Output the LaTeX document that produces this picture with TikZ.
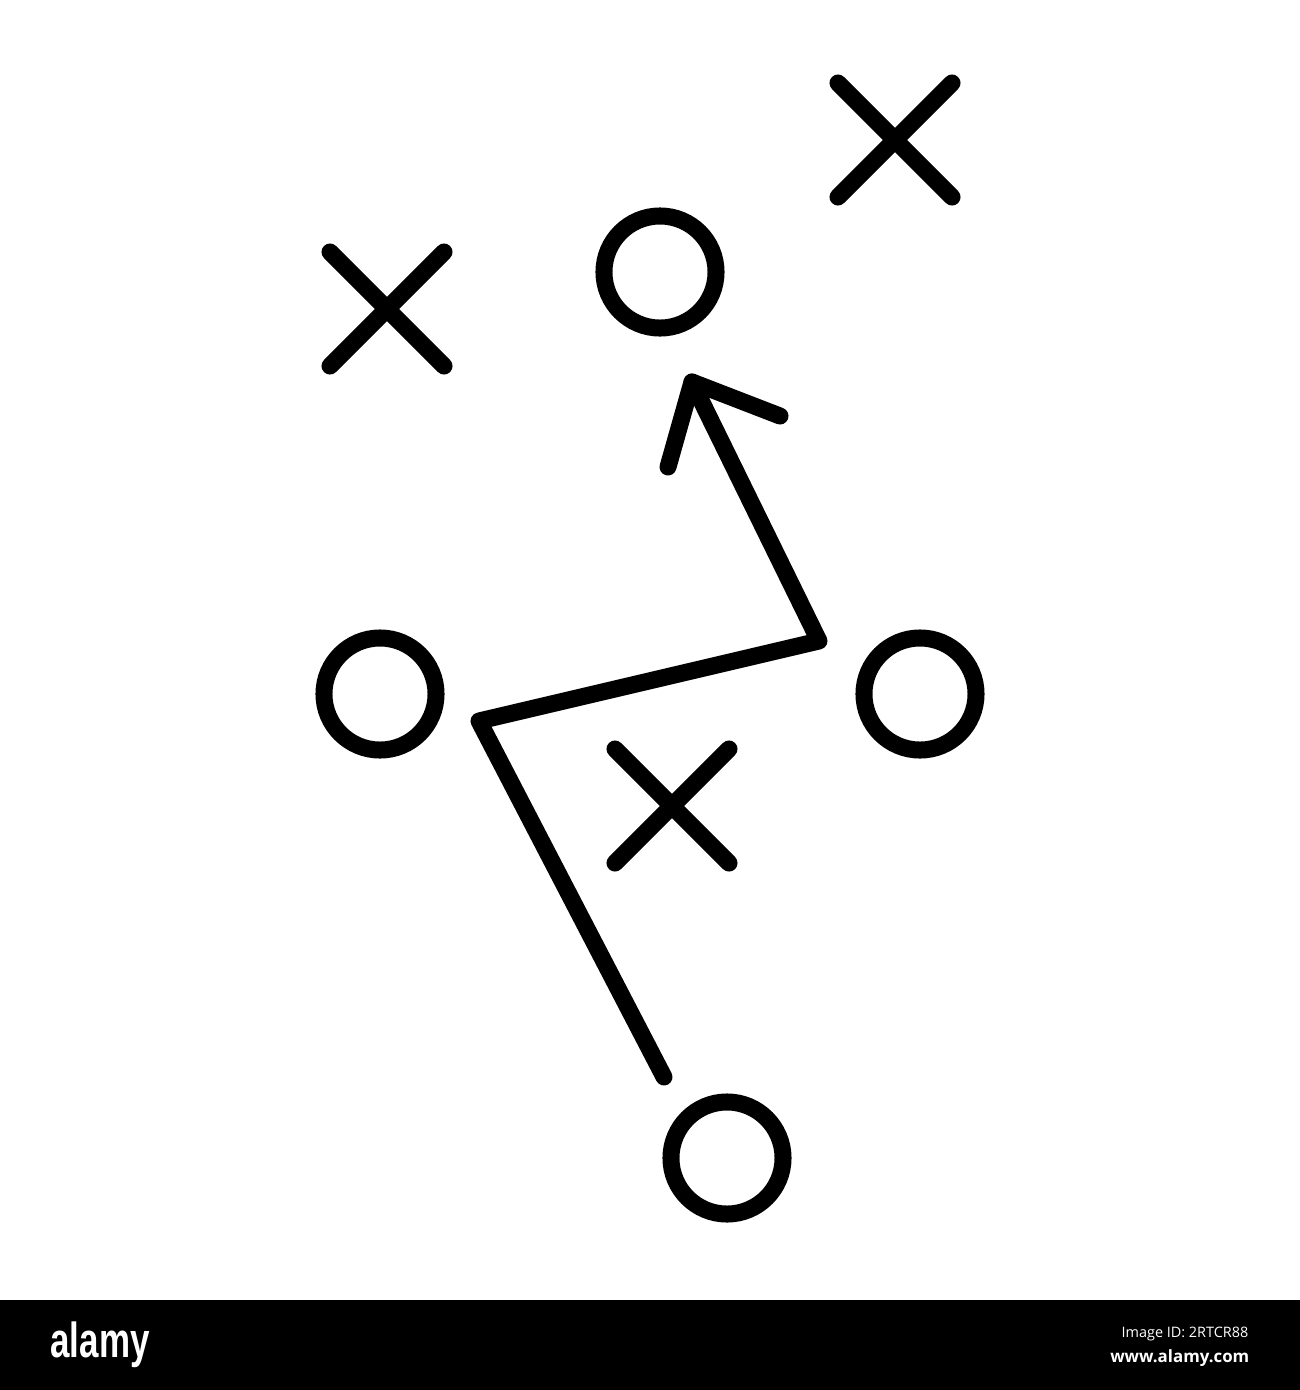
\documentclass[tikz,border=0pt]{standalone}
\usepackage{fontspec}
\setmainfont{Liberation Sans}
\newfontfamily\bannerfont{Open Sans}
\usetikzlibrary{shapes.misc}
\begin{document}
\begin{tikzpicture}[x=0.01cm,y=-0.01cm,
  ring/.style={draw,circle,minimum size=1.12cm,inner sep=0pt,line width=0.17cm},
  xmark/.style={draw,cross out,minimum size=1.14cm,inner sep=0pt,outer sep=0pt,line width=0.17cm,line cap=round},
  route/.style={draw,line width=0.17cm,line cap=round,line join=round}]
\useasboundingbox (0,0) rectangle (1300,1390);
\fill[white] (0,0) rectangle (1300,1300);
\fill[black] (0,1300) rectangle (1300,1390);
% players
\node[xmark] (x1) at (387,309) {};
\node[xmark] (x2) at (895,140) {};
\node[xmark] (x3) at (672,806) {};
\node[ring] (o1) at (660,272) {};
\node[ring] (o2) at (380,694) {};
\node[ring] (o3) at (920,694) {};
\node[ring] (o4) at (727,1158) {};
% route
\coordinate (start) at (664,1077);
\coordinate (k1) at (479,721);
\coordinate (k2) at (819,641);
\coordinate (tip) at (692,382);
\coordinate (bl) at (668,467);
\coordinate (br) at (780,416);
\draw[route] (start) -- (k1) -- (k2) -- (tip);
\draw[route] (bl) -- (tip) -- (br);
% banner
\node[anchor=base west,text=white,font=\bfseries\fontsize{14pt}{15pt}\selectfont,xscale=0.71,inner sep=0pt] (logo) at (50,1357) {alamy};
\node[anchor=base east,text=white,font=\bannerfont\fontsize{4.1pt}{5pt}\selectfont,inner sep=0pt] (iid) at (1249,1337) {Image ID: 2RTCR88};
\node[anchor=base east,text=white,font=\bannerfont\bfseries\fontsize{4.8pt}{6pt}\selectfont,inner sep=0pt] (www) at (1250,1362) {www.alamy.com};
\end{tikzpicture}
\end{document}
